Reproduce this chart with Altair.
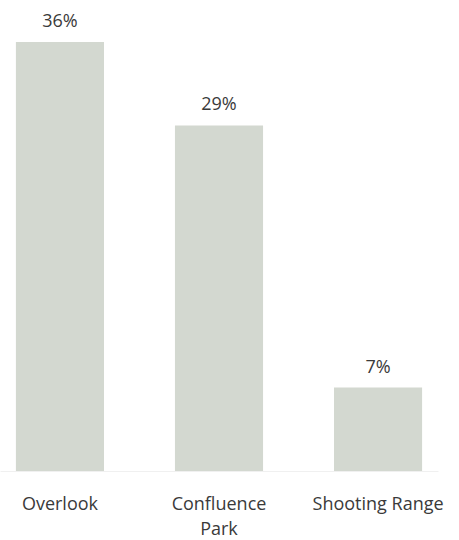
import altair as alt
import pandas as pd

categories = ["Overlook", "Confluence Park", "Shooting Range"]
values = [36, 29, 7]
value_labels = ["36%", "29%", "7%"]

df = pd.DataFrame({"cat": categories, "val": values, "lab": value_labels})

x = alt.X("cat:N", sort=categories, title=None,
          scale=alt.Scale(paddingInner=0.446, paddingOuter=0.1),
          axis=alt.Axis(domain=True, domainColor="#f0f0f0", ticks=False, labelAngle=0,
                        labelFont="Open Sans", labelFontSize=18, labelColor="#3a3a3a",
                        labelPadding=24, labelLineHeight=25, labelBaseline="top",
                        labelExpr="datum.value == 'Confluence Park' ? ['Confluence', 'Park'] : datum.value"))
y = alt.Y("val:Q", title=None, scale=alt.Scale(domain=[0, 36], nice=False), axis=None)

bars = alt.Chart(df).mark_bar(color="#d3d8d0").encode(x=x, y=y)
texts = alt.Chart(df).mark_text(dy=-15, font="Open Sans", fontSize=18, color="#3a3a3a",
                                baseline="alphabetic").encode(x=x, y=y, text="lab:N")

chart = (bars + texts).properties(
    width=438, height=429,
    background="white",
    autosize=alt.AutoSizeParams(type="none"),
    padding={"left": 0, "top": 42, "right": 21, "bottom": 69},
).configure_view(strokeWidth=0)

chart.save("out.html", embed_options={"renderer": "svg", "actions": False})
